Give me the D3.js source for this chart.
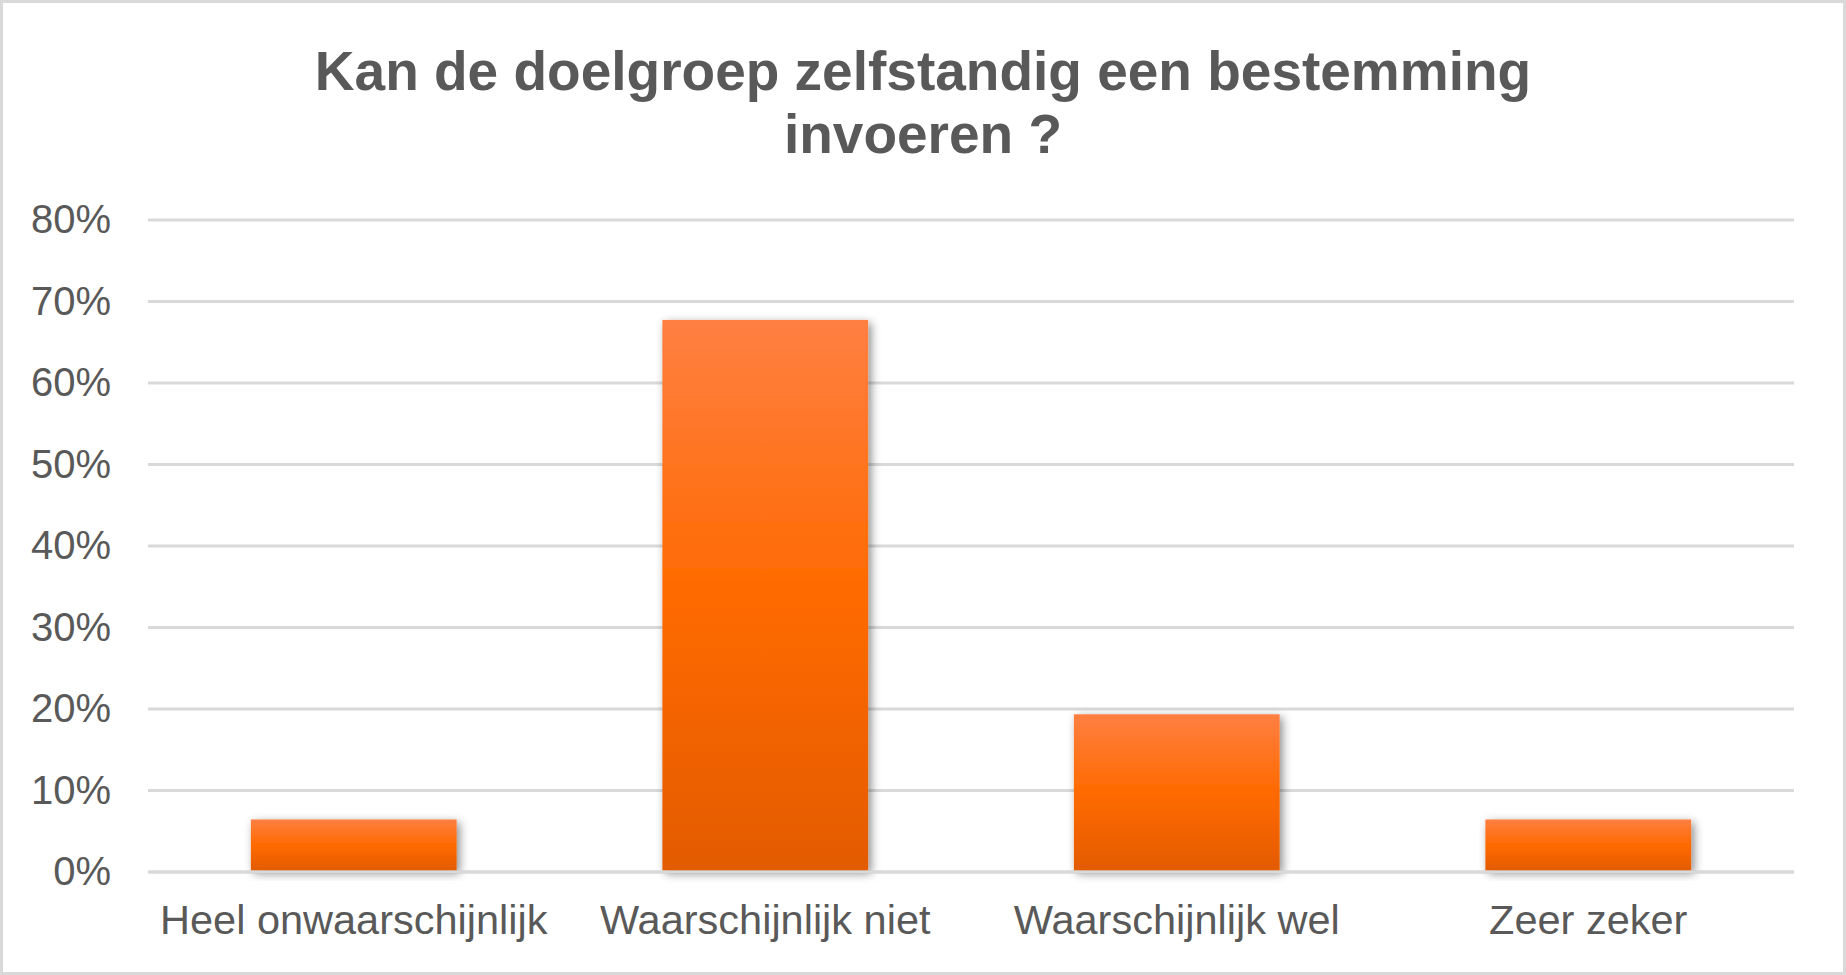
<!DOCTYPE html>
<html>
  <head>
    <meta charset="utf-8">
    <title>Kan de doelgroep zelfstandig een bestemming invoeren ?</title>
    <style>
      body {
        margin: 0;
        background-color: white;
      }
      text {
        font-family: "Liberation Sans", Arial, sans-serif;
        fill: #595959;
      }
    </style>
  </head>
  <body>
    <div id="chart"></div>

    <script src="https://d3js.org/d3.v7.min.js"></script>
    <script>
      var titleLines = ["Kan de doelgroep zelfstandig een bestemming", "invoeren ?"];
      var categories = ["Heel onwaarschijnlijk", "Waarschijnlijk niet", "Waarschijnlijk wel", "Zeer zeker"];
      var values = [0.0645, 0.6774, 0.1935, 0.0645];
      var yTicks = [0, 0.1, 0.2, 0.3, 0.4, 0.5, 0.6, 0.7, 0.8];

      var width = 1846;
      var height = 975;
      var margin = {top: 220, right: 52, bottom: 103, left: 148};

      var svg = d3.select("#chart").append("svg")
        .attr("width", width)
        .attr("height", height);

      // outer frame
      svg.append("rect")
        .attr("x", 1.5).attr("y", 1.5)
        .attr("width", width - 3).attr("height", height - 3)
        .attr("fill", "white")
        .attr("stroke", "#d9d9d9")
        .attr("stroke-width", 3);

      var defs = svg.append("defs");
      var grad = defs.append("linearGradient")
        .attr("id", "barGrad")
        .attr("x1", 0).attr("y1", 0).attr("x2", 0).attr("y2", 1);
      grad.append("stop").attr("offset", "0%").attr("stop-color", "#ff7f42");
      grad.append("stop").attr("offset", "50%").attr("stop-color", "#ff6a00");
      grad.append("stop").attr("offset", "100%").attr("stop-color", "#e35b00");

      var shadow = defs.append("filter")
        .attr("id", "shadow")
        .attr("x", "-20%").attr("y", "-20%")
        .attr("width", "140%").attr("height", "140%");
      shadow.append("feDropShadow")
        .attr("dx", 3).attr("dy", 3)
        .attr("stdDeviation", 5)
        .attr("flood-color", "#000")
        .attr("flood-opacity", 0.45);

      var x = d3.scaleBand()
        .domain(categories)
        .range([margin.left, width - margin.right])
        .paddingInner(0.5)
        .paddingOuter(0.25);

      var y = d3.scaleLinear()
        .domain([0, 0.8])
        .range([height - margin.bottom, margin.top]);

      // gridlines
      svg.append("g")
        .selectAll("line")
        .data(yTicks)
        .enter()
        .append("line")
        .attr("x1", margin.left)
        .attr("x2", width - margin.right)
        .attr("y1", function(d){ return y(d) })
        .attr("y2", function(d){ return y(d) })
        .attr("stroke", "#d9d9d9")
        .attr("stroke-width", 3);

      // y labels
      var yAxis = d3.axisLeft(y)
        .tickValues(yTicks)
        .tickFormat(d3.format(".0%"))
        .tickSize(0)
        .tickPadding(37);
      var yg = svg.append("g")
        .attr("transform", "translate(" + margin.left + ",0)")
        .call(yAxis);
      yg.select(".domain").remove();
      yg.selectAll("text")
        .attr("font-size", 40)
        .attr("fill", "#595959")
        .attr("font-family", "Liberation Sans, Arial, sans-serif");

      // bars
      svg.append("g")
        .selectAll("rect")
        .data(values)
        .enter()
        .append("rect")
        .attr("x", function(d, i){ return x(categories[i]) })
        .attr("y", function(d){ return y(d) })
        .attr("width", x.bandwidth())
        .attr("height", function(d){ return y(0) - y(d) - 1.5 })
        .attr("fill", "url(#barGrad)")
        .attr("filter", "url(#shadow)");

      // baseline over the bars
      svg.append("line")
        .attr("x1", margin.left)
        .attr("x2", width - margin.right)
        .attr("y1", y(0))
        .attr("y2", y(0))
        .attr("stroke", "#d9d9d9")
        .attr("stroke-width", 3);

      // x labels
      var xAxis = d3.axisBottom(x).tickSize(0).tickPadding(33);
      var xg = svg.append("g")
        .attr("transform", "translate(0," + y(0) + ")")
        .call(xAxis);
      xg.select(".domain").remove();
      xg.selectAll("text")
        .attr("font-size", 41.5)
        .attr("fill", "#595959")
        .attr("font-family", "Liberation Sans, Arial, sans-serif");

      // title
      svg.append("text")
        .attr("x", width / 2)
        .attr("text-anchor", "middle")
        .attr("font-size", 55)
        .attr("font-weight", "bold")
        .selectAll("tspan")
        .data(titleLines)
        .enter()
        .append("tspan")
        .attr("x", width / 2)
        .attr("y", function(d, i){ return 90 + i * 63 })
        .text(function(d){ return d });
    </script>
  </body>
</html>
